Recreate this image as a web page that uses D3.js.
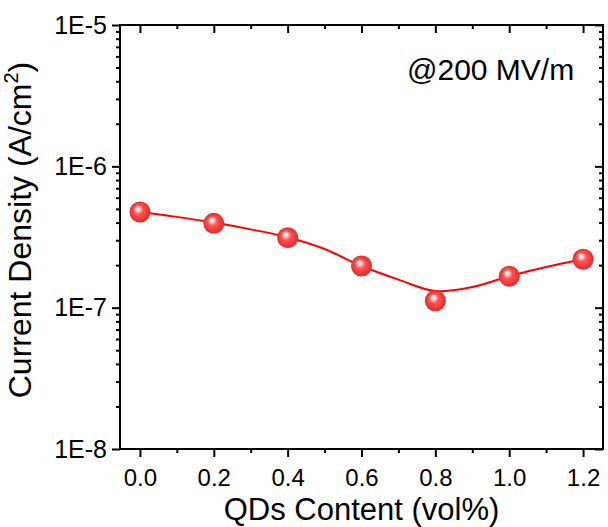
<!DOCTYPE html>
<html>
<head>
<meta charset="utf-8">
<script src="https://cdn.jsdelivr.net/npm/d3@7"></script>
<style>
  body { margin: 0; background: #fff; }
  svg { display: block; font-family: "Liberation Sans", Arial, sans-serif; }
</style>
</head>
<body>
<svg id="chart" width="608" height="527"></svg>
<script>
// data
var qdContent = [0.0, 0.2, 0.4, 0.6, 0.8, 1.0, 1.2];
var currentDensity = [4.75e-7, 3.95e-7, 3.13e-7, 1.97e-7, 1.12e-7, 1.67e-7, 2.2e-7];

// the smooth fit line
var fitX = [0.0, 0.1, 0.2, 0.3, 0.4, 0.5, 0.6, 0.7, 0.8, 0.9, 1.0, 1.1, 1.2];
var fitY = [4.75e-7, 4.39e-7, 4.0e-7, 3.58e-7, 3.15e-7, 2.6e-7, 1.97e-7, 1.58e-7, 1.31e-7, 1.40e-7, 1.67e-7, 1.94e-7, 2.2e-7];

var xTicks = [0.0, 0.2, 0.4, 0.6, 0.8, 1.0, 1.2];
var xMinorTicks = [0.1, 0.3, 0.5, 0.7, 0.9, 1.1];
var yTicks = [1e-8, 1e-7, 1e-6, 1e-5];

var plotLeft = 120, plotRight = 603, plotTop = 25, plotBottom = 449;

var svg = d3.select("#chart");

var x = d3.scaleLinear().domain([-0.054, 1.254]).range([plotLeft, plotRight]);
var y = d3.scaleLog().domain([1e-8, 1e-5]).range([plotBottom, plotTop]);

// minor ticks for the log axis: 2..9 in every decade
var yMinorTicks = [];
for (var e = -8; e < -5; e++) {
    for (var m = 2; m < 10; m++) {
        yMinorTicks.push(m * Math.pow(10, e));
    }
}

// sphere marker gradient
var defs = svg.append("defs");
var grad = defs.append("radialGradient")
    .attr("id", "ball")
    .attr("cx", "50%").attr("cy", "50%").attr("r", "50%")
    .attr("fx", "38%").attr("fy", "32%");
grad.append("stop").attr("offset", "0%").attr("stop-color", "#ffffff");
grad.append("stop").attr("offset", "18%").attr("stop-color", "#ffd6d6");
grad.append("stop").attr("offset", "45%").attr("stop-color", "#ff5252");
grad.append("stop").attr("offset", "100%").attr("stop-color", "#e22a2a");

function styleAxis(g) {
    g.attr("font-family", null).attr("font-size", null);
    g.select(".domain").remove();
    g.selectAll(".tick line").attr("stroke", "#000").attr("stroke-width", 2);
}

// bottom axis, ticks out
svg.append("g")
    .attr("transform", "translate(0," + plotBottom + ")")
    .call(d3.axisBottom(x).tickValues(xTicks).tickSize(8).tickSizeOuter(0).tickPadding(12)
        .tickFormat(d3.format(".1f")))
    .call(styleAxis)
    .selectAll("text")
    .attr("font-size", 24)
    .attr("fill", "#000");
svg.append("g")
    .attr("transform", "translate(0," + plotBottom + ")")
    .call(d3.axisBottom(x).tickValues(xMinorTicks).tickSize(4).tickSizeOuter(0).tickFormat(""))
    .call(styleAxis);

// top axis, mirrored ticks pointing down
svg.append("g")
    .attr("transform", "translate(0," + plotTop + ")")
    .call(d3.axisTop(x).tickValues(xTicks).tickSize(-8).tickSizeOuter(0).tickFormat(""))
    .call(styleAxis);
svg.append("g")
    .attr("transform", "translate(0," + plotTop + ")")
    .call(d3.axisTop(x).tickValues(xMinorTicks).tickSize(-4).tickSizeOuter(0).tickFormat(""))
    .call(styleAxis);

// left axis, ticks out
svg.append("g")
    .attr("transform", "translate(" + plotLeft + ",0)")
    .call(d3.axisLeft(y).tickValues(yTicks).tickSize(8).tickSizeOuter(0).tickPadding(5)
        .tickFormat(function(d) { return "1E" + Math.round(Math.log10(d)); }))
    .call(styleAxis)
    .selectAll("text")
    .attr("font-size", 25)
    .attr("fill", "#000");
svg.append("g")
    .attr("transform", "translate(" + plotLeft + ",0)")
    .call(d3.axisLeft(y).tickValues(yMinorTicks).tickSize(4).tickSizeOuter(0).tickFormat(""))
    .call(styleAxis);

// right axis, mirrored ticks pointing left
svg.append("g")
    .attr("transform", "translate(" + plotRight + ",0)")
    .call(d3.axisRight(y).tickValues(yTicks).tickSize(-8).tickSizeOuter(0).tickFormat(""))
    .call(styleAxis);
svg.append("g")
    .attr("transform", "translate(" + plotRight + ",0)")
    .call(d3.axisRight(y).tickValues(yMinorTicks).tickSize(-4).tickSizeOuter(0).tickFormat(""))
    .call(styleAxis);

// frame
svg.append("rect")
    .attr("x", plotLeft).attr("y", plotTop)
    .attr("width", plotRight - plotLeft).attr("height", plotBottom - plotTop)
    .attr("fill", "none")
    .attr("stroke", "#000")
    .attr("stroke-width", 2);

// fit line
var fitData = fitX.map(function(v, i) { return [v, fitY[i]]; });
var line = d3.line()
    .x(function(d) { return x(d[0]); })
    .y(function(d) { return y(d[1]); })
    .curve(d3.curveCatmullRom.alpha(0.5));
svg.append("path")
    .datum(fitData)
    .attr("d", line)
    .attr("fill", "none")
    .attr("stroke", "#ff0000")
    .attr("stroke-width", 2);

// ball markers
svg.selectAll("circle.pt")
    .data(qdContent)
    .enter().append("circle")
    .attr("class", "pt")
    .attr("cx", function(d) { return x(d); })
    .attr("cy", function(d, i) { return y(currentDensity[i]); })
    .attr("r", 10.5)
    .attr("fill", "url(#ball)");

// axis titles
svg.append("text")
    .attr("x", (plotLeft + plotRight) / 2)
    .attr("y", 520)
    .attr("text-anchor", "middle")
    .attr("font-size", 31)
    .text("QDs Content (vol%)");

var yt = svg.append("text")
    .attr("transform", "translate(31," + ((plotTop + plotBottom) / 2 - 7) + ") rotate(-90)")
    .attr("text-anchor", "middle")
    .attr("font-size", 32);
yt.append("tspan").text("Current Density (A/cm");
yt.append("tspan").attr("dy", -13).attr("font-size", 20).text("2");
yt.append("tspan").attr("dy", 13).text(")");

// annotation
svg.append("text")
    .attr("x", 407)
    .attr("y", 80)
    .attr("font-size", 30)
    .text("@200 MV/m");
</script>
</body>
</html>
